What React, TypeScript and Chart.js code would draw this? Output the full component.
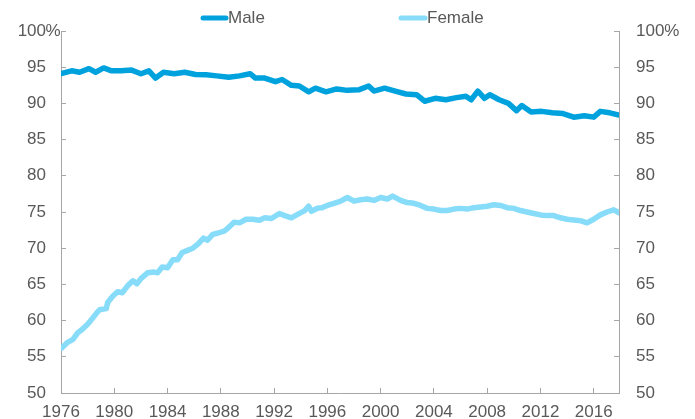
import React, { useEffect, useRef } from 'react';
import { Chart, registerables } from 'chart.js';

Chart.register(...registerables);

const seriesNames = ['Male', 'Female'];
const seriesColors = ['#00A2DE', '#87DCF9'];

const maleYears = [
  1976.0, 1976.8, 1977.4, 1978.1, 1978.6, 1979.2, 1979.8, 1980.5, 1981.3, 1982.0,
  1982.6, 1983.1, 1983.7, 1984.5, 1985.3, 1986.1, 1986.9, 1987.7, 1988.6, 1989.4,
  1990.2, 1990.6, 1991.3, 1992.1, 1992.6, 1993.3, 1993.9, 1994.6, 1995.1, 1995.9,
  1996.7, 1997.5, 1998.4, 1999.1, 1999.5, 2000.3, 2001.1, 2001.9, 2002.7, 2003.3,
  2004.1, 2004.9, 2005.7, 2006.4, 2006.8, 2007.3, 2007.8, 2008.2, 2008.9, 2009.6,
  2010.2, 2010.6, 2011.3, 2012.1, 2012.9, 2013.7, 2014.5, 2015.3, 2016.0, 2016.5,
  2017.2, 2017.9,
];
const maleValues = [
  94.1, 94.5, 94.3, 94.8, 94.3, 94.9, 94.5, 94.5, 94.6, 94.1,
  94.5, 93.5, 94.3, 94.1, 94.3, 94.0, 93.95, 93.8, 93.6, 93.8,
  94.1, 93.5, 93.5, 93.0, 93.3, 92.5, 92.4, 91.6, 92.1, 91.6,
  92.0, 91.8, 91.9, 92.4, 91.7, 92.1, 91.7, 91.3, 91.2, 90.3,
  90.7, 90.5, 90.8, 91.0, 90.5, 91.7, 90.7, 91.2, 90.5, 90.0,
  89.0, 89.7, 88.8, 88.9, 88.7, 88.6, 88.1, 88.3, 88.1, 88.9,
  88.7, 88.4,
];

const femaleYears = [
  1976.05, 1976.5, 1976.9, 1977.25, 1977.6, 1978.0, 1978.4, 1978.7, 1978.9, 1979.4,
  1979.5, 1979.9, 1980.25, 1980.6, 1981.0, 1981.4, 1981.7, 1982.0, 1982.5, 1983.0,
  1983.25, 1983.6, 1984.0, 1984.4, 1984.75, 1985.1, 1985.5, 1985.9, 1986.3, 1986.7,
  1987.0, 1987.4, 1987.8, 1988.3, 1988.6, 1989.0, 1989.4, 1989.9, 1990.4, 1990.9,
  1991.3, 1991.8, 1992.4, 1992.8, 1993.3, 1993.8, 1994.3, 1994.6, 1994.8, 1995.3,
  1995.6, 1996.0, 1996.5, 1997.0, 1997.5, 1998.0, 1998.5, 1999.0, 1999.5, 2000.0,
  2000.5, 2000.9, 2001.5, 2002.0, 2002.5, 2003.0, 2003.5, 2004.0, 2004.5, 2005.0,
  2005.5, 2006.0, 2006.5, 2007.0, 2007.5, 2008.0, 2008.5, 2009.0, 2009.5, 2010.0,
  2010.5, 2011.0, 2011.5, 2012.0, 2012.5, 2013.0, 2013.5, 2014.0, 2014.5, 2015.0,
  2015.5, 2016.0, 2016.5, 2017.0, 2017.5, 2017.9,
];
const femaleValues = [
  56.2, 57.0, 57.4, 58.3, 58.8, 59.5, 60.4, 61.1, 61.5, 61.65,
  62.5, 63.4, 64.0, 63.85, 64.8, 65.5, 65.1, 65.8, 66.6, 66.7,
  66.6, 67.4, 67.3, 68.4, 68.4, 69.4, 69.7, 70.0, 70.6, 71.4,
  71.1, 71.9, 72.1, 72.4, 72.9, 73.6, 73.5, 74.0, 74.0, 73.85,
  74.2, 74.1, 74.8, 74.5, 74.2, 74.7, 75.2, 75.8, 75.1, 75.55,
  75.6, 75.9, 76.2, 76.5, 77.0, 76.5, 76.7, 76.8, 76.6, 77.0,
  76.8, 77.2, 76.6, 76.3, 76.2, 75.9, 75.5, 75.4, 75.2, 75.2,
  75.4, 75.5, 75.4, 75.6, 75.7, 75.8, 76.0, 75.9, 75.6, 75.5,
  75.2, 75.0, 74.8, 74.6, 74.5, 74.5, 74.2, 74.0, 73.9, 73.8,
  73.5, 74.0, 74.6, 75.0, 75.3, 74.9,
];

const xTickYears = [1976, 1980, 1984, 1988, 1992, 1996, 2000, 2004, 2008, 2012, 2016];
const yTickValues = [50, 55, 60, 65, 70, 75, 80, 85, 90, 95, 100];

const TEXT = '#595959';
const AXIS = '#A6A6A6';
const FONT = "'Liberation Sans', Arial, sans-serif";

export default function App() {
  const ref = useRef<HTMLCanvasElement | null>(null);

  useEffect(() => {
    document.body.style.margin = '0';
    const canvas = ref.current;
    if (!canvas) return;

    const legendPlugin = {
      id: 'customLegend',
      afterDraw(chart: any) {
        const ctx = chart.ctx;
        const items = [
          { x0: 203, x1: 226, tx: 228 },
          { x0: 401, x1: 425, tx: 427 },
        ];
        ctx.save();
        ctx.font = `17px ${FONT}`;
        ctx.textBaseline = 'middle';
        items.forEach((it, i) => {
          ctx.strokeStyle = seriesColors[i];
          ctx.lineWidth = 5;
          ctx.lineCap = 'round';
          ctx.beginPath();
          ctx.moveTo(it.x0, 18);
          ctx.lineTo(it.x1, 18);
          ctx.stroke();
          ctx.fillStyle = TEXT;
          ctx.textAlign = 'left';
          ctx.fillText(chart.data.datasets[i].label, it.tx, 18);
        });
        // percent sign after the left axis "100" label
        const ys = chart.scales.y;
        const py = ys.getPixelForValue(100);
        ctx.textAlign = 'left';
        ctx.fillStyle = TEXT;
        ctx.fillText('%', ys.right - 15.5, py);
        ctx.restore();
      },
    };

    const gridOpts = {
      drawOnChartArea: false,
      drawTicks: true,
      tickLength: -5,
      tickWidth: 1,
      tickColor: AXIS,
      color: AXIS,
    };

    const fixVertical = (s: any, w: number) => {
      s.width = w;
      s.paddingTop = 0;
      s.paddingBottom = 0;
    };

    const chart = new Chart(canvas, {
      type: 'line',
      data: {
        datasets: [
          {
            label: seriesNames[0],
            data: maleYears.map((x, i) => ({ x, y: maleValues[i] })),
            borderColor: seriesColors[0],
            backgroundColor: seriesColors[0],
            borderWidth: 5.5,
            borderJoinStyle: 'round',
            borderCapStyle: 'round',
            pointRadius: 0,
            tension: 0,
            yAxisID: 'y',
          },
          {
            label: seriesNames[1],
            data: femaleYears.map((x, i) => ({ x, y: femaleValues[i] })),
            borderColor: seriesColors[1],
            backgroundColor: seriesColors[1],
            borderWidth: 5.5,
            borderJoinStyle: 'round',
            borderCapStyle: 'round',
            pointRadius: 0,
            tension: 0,
            yAxisID: 'y',
          },
        ],
      },
      options: {
        responsive: false,
        animation: false,
        layout: { padding: { top: 31, left: 0, right: 0, bottom: 0 } },
        plugins: { legend: { display: false }, title: { display: false }, tooltip: { enabled: false } },
        font: { family: FONT, size: 17 },
        scales: {
          x: {
            type: 'linear',
            min: 1976,
            max: 2017.9,
            grid: gridOpts,
            border: { color: AXIS, width: 1 },
            afterBuildTicks: (s: any) => {
              s.ticks = xTickYears.map((v) => ({ value: v }));
            },
            afterFit: (s: any) => {
              s.height = 26;
            },
            ticks: {
              autoSkip: false,
              maxRotation: 0,
              minRotation: 0,
              includeBounds: false,
              padding: 14.3,
              color: TEXT,
              font: { family: FONT, size: 17 },
              callback: (v: any) => String(v),
            },
          },
          y: {
            type: 'linear',
            position: 'left',
            min: 50,
            max: 100,
            grid: gridOpts,
            border: { color: AXIS, width: 1 },
            afterBuildTicks: (s: any) => {
              s.ticks = yTickValues.map((v) => ({ value: v }));
            },
            afterFit: (s: any) => fixVertical(s, 61),
            ticks: {
              padding: 20,
              color: TEXT,
              font: { family: FONT, size: 17 },
              callback: (v: any) => String(v),
            },
          },
          y2: {
            type: 'linear',
            position: 'right',
            min: 50,
            max: 100,
            grid: gridOpts,
            border: { color: AXIS, width: 1 },
            afterBuildTicks: (s: any) => {
              s.ticks = yTickValues.map((v) => ({ value: v }));
            },
            afterFit: (s: any) => fixVertical(s, 76),
            ticks: {
              padding: 22,
              color: TEXT,
              font: { family: FONT, size: 17 },
              callback: (v: any) => (v === 100 ? '100%' : String(v)),
            },
          },
        },
      } as any,
      plugins: [legendPlugin],
    });

    return () => chart.destroy();
  }, []);

  return (
    <div style={{ width: 695, height: 419, position: 'relative' }}>
      <canvas ref={ref} width={695} height={419} style={{ display: 'block', width: 695, height: 419 }} />
    </div>
  );
}
